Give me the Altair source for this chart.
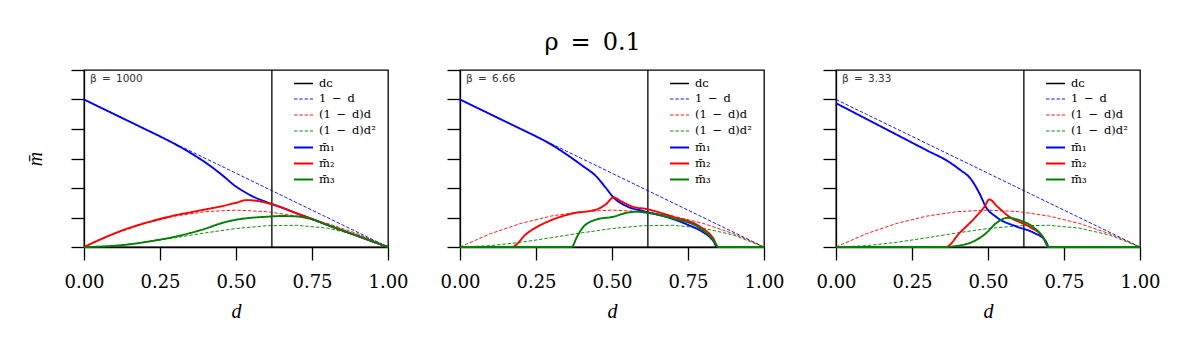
import altair as alt
import pandas as pd

SERIES = ["dᴄ", "1\u2002−\u2002d", "(1\u2002−\u2002d)d", "(1\u2002−\u2002d)d²", "m̄₁", "m̄₂", "m̄₃"]
COLORS = ["black", "#0000ff", "#ff0000", "#008000", "#0000ff", "#ff0000", "#008000"]
DASHES = [[1, 0], [3.5, 1.8], [3.5, 1.8], [3.5, 1.8], [1, 0], [1, 0], [1, 0]]
WIDTHS = [1.3, 0.9, 0.9, 0.9, 1.9, 1.9, 1.9]

D_C = 0.618
BETAS = ["β\u2002=\u20021000", "β\u2002=\u20026.66", "β\u2002=\u20023.33"]

# reference curves
REF_LIN_D = [0.0, 1.0]
REF_LIN_M = [1.0, 0.0]
REF_D = [0.0, 0.1, 0.2, 0.3, 0.4, 0.5, 0.6, 0.7, 0.8, 0.9, 1.0]
REF_QUAD_M = [0.0, 0.09, 0.16, 0.21, 0.24, 0.25, 0.24, 0.21, 0.16, 0.09, 0.0]
REF_CUB_M = [0.0, 0.009, 0.032, 0.063, 0.096, 0.125, 0.144, 0.147, 0.128, 0.081, 0.0]

# panel 1: beta = 1000
P1_D = [0, .05, .1, .15, .2, .25, .3, .35, .4, .45, .5, .535, .55, .6, .65, .7, .75, .8, .85, .9, .95, 1]
P1_M1 = [1, .95, .9, .85, .8, .75, .697, .638, .572, .495, .41, .365, .348, .305, .268, .228, .19, .15, .112, .075, .037, 0]
P1_M2 = [0, .048, .092, .13, .162, .19, .215, .235, .255, .275, .30, .318, .317, .30, .268, .228, .19, .15, .112, .075, .037, 0]
P1_M3 = [0, .002, .008, .018, .033, .05, .07, .095, .125, .16, .185, .195, .198, .205, .21, .207, .188, .15, .112, .075, .037, 0]

# panel 2: beta = 6.66
P2_M1_D = [0, .05, .1, .15, .2, .25, .3, .35, .4, .45, .48, .505, .55, .6, .65, .7, .75, .8, .82, .835, .845, 1]
P2_M1 = [1, .95, .9, .85, .8, .75, .695, .628, .555, .475, .40, .336, .275, .245, .22, .19, .15, .10, .07, .035, 0, 0]
P2_M2_D = [0, .17, .22, .3, .37, .45, .48, .505, .53, .57, .614, .7, .79, .833, .85, 1]
P2_M2 = [0, 0, .092, .182, .227, .255, .29, .336, .31, .272, .257, .205, .137, .059, 0, 0]
P2_M3_D = [0, .367, .385, .406, .45, .504, .548, .581, .614, .7, .79, .833, .85, 1]
P2_M3 = [0, 0, .07, .137, .187, .205, .232, .239, .232, .194, .126, .047, 0, 0]

# panel 3: beta = 3.33
P3_M1_D = [0, .1, .2, .3, .37, .41, .44, .472, .493, .526, .592, .647, .69, .70, 1]
P3_M1 = [.975, .868, .761, .654, .579, .52, .47, .363, .272, .205, .14, .10, .04, 0, 0]
P3_M2_D = [0, .362, .405, .46, .488, .504, .532, .57, .636, .68, .70, 1]
P3_M2 = [0, 0, .092, .205, .272, .322, .272, .205, .137, .07, 0, 0]
P3_M3_D = [0, .35, .40, .45, .493, .526, .565, .603, .647, .68, .70, 1]
P3_M3 = [0, 0, .008, .036, .092, .16, .198, .182, .137, .07, 0, 0]

PANELS = [
    [(P1_D, P1_M1), (P1_D, P1_M2), (P1_D, P1_M3)],
    [(P2_M1_D, P2_M1), (P2_M2_D, P2_M2), (P2_M3_D, P2_M3)],
    [(P3_M1_D, P3_M1), (P3_M2_D, P3_M2), (P3_M3_D, P3_M3)],
]

SERIF = "DejaVu Serif"
TSERIF = "Liberation Serif"

ref_rows = []
for d, m in zip(REF_LIN_D, REF_LIN_M):
    ref_rows.append({"series": SERIES[1], "d": d, "m": m})
for d, m in zip(REF_D, REF_QUAD_M):
    ref_rows.append({"series": SERIES[2], "d": d, "m": m})
for d, m in zip(REF_D, REF_CUB_M):
    ref_rows.append({"series": SERIES[3], "d": d, "m": m})
ref_df = pd.DataFrame(ref_rows)
dc_df = pd.DataFrame({"series": [SERIES[0]], "d": [D_C]})

color = alt.Color("series:N", scale=alt.Scale(domain=SERIES, range=COLORS),
                  legend=alt.Legend(title=None, orient="none", legendX=209, legendY=3,
                                    symbolType="stroke", symbolSize=361,
                                    labelFont=SERIF, labelFontSize=11.5, labelColor="black",
                                    rowPadding=0, padding=0, labelOffset=5))
dash = alt.StrokeDash("series:N", scale=alt.Scale(domain=SERIES, range=DASHES), legend=alt.Legend(title=None))
width = alt.StrokeWidth("series:N", scale=alt.Scale(type="ordinal", domain=SERIES, range=WIDTHS), legend=alt.Legend(title=None))


def panel(i):
    rows = []
    for k, (ds, ms) in enumerate(PANELS[i]):
        for d, m in zip(ds, ms):
            rows.append({"series": SERIES[4 + k], "d": d, "m": m})
    mdf = pd.DataFrame(rows)
    xaxis = alt.Axis(values=[0, 0.25, 0.5, 0.75, 1.0], format=".2f", grid=False, labelFlush=False,
                     labelFont=SERIF, labelFontSize=18, labelColor="black",
                     tickSize=13, tickWidth=1.3, tickColor="black", domainColor="black", domainWidth=1.3,
                     labelPadding=13, title="d", titleFont=TSERIF, titleFontStyle="italic",
                     titleFontWeight="normal", titleFontSize=20, titlePadding=10, titleColor="black")
    yaxis = alt.Axis(values=[0, 0.2, 0.4, 0.6, 0.8, 1.0, 1.2], labels=False, grid=False,
                     tickSize=13, tickWidth=1.3, tickColor="black", domainColor="black", domainWidth=1.3,
                     title="m̄" if i == 0 else None, titleFont=TSERIF, titleFontStyle="italic",
                     titleFontWeight="normal", titleFontSize=20, titlePadding=25, titleColor="black")
    x = alt.X("d:Q", scale=alt.Scale(domain=[0, 1], nice=False), axis=xaxis)
    y = alt.Y("m:Q", scale=alt.Scale(domain=[0, 1.2], nice=False), axis=yaxis)
    rule = alt.Chart(dc_df).mark_rule().encode(x=x, color=color, strokeDash=dash, strokeWidth=width)
    refs = alt.Chart(ref_df).mark_line().encode(x=x, y=y, color=color, strokeDash=dash, strokeWidth=width)
    ms = alt.Chart(mdf).mark_line(interpolate="monotone").encode(x=x, y=y, color=color, strokeDash=dash, strokeWidth=width)
    txt = alt.Chart(pd.DataFrame({"t": [BETAS[i]]})).mark_text(
        align="left", baseline="middle", font="DejaVu Sans", fontSize=10.5, color="#333"
    ).encode(text="t:N", x=alt.value(6), y=alt.value(9))
    return alt.layer(rule, refs, ms, txt).properties(width=304, height=177)


chart = alt.hconcat(panel(0), panel(1), panel(2), spacing=72, bounds="flush").resolve_legend(
    color="independent", strokeDash="independent", strokeWidth="independent"
).properties(
    title=alt.Title("ρ\u2002=\u20020.1", font=SERIF, fontSize=24, fontWeight="normal", color="black",
                    anchor="middle", offset=14),
    padding={"left": 16, "top": 22, "right": 5, "bottom": 5},
).configure_view(stroke="black", strokeWidth=1.3)

chart.save("out.html", embed_options={"renderer": "svg", "actions": False})
